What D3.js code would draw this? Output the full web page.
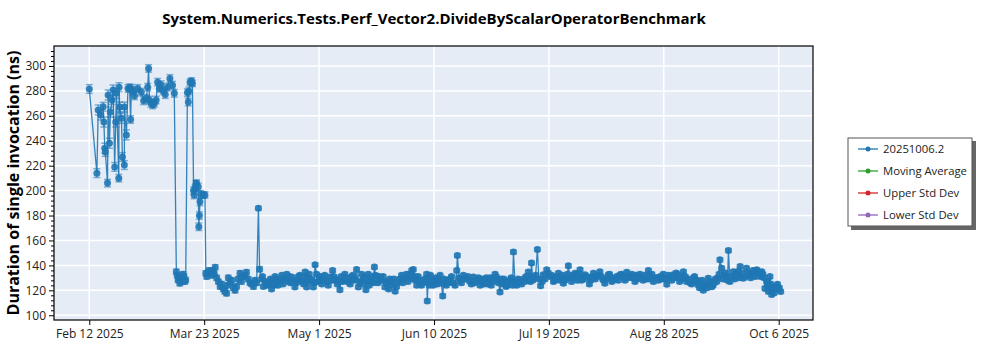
<!DOCTYPE html>
<html><head><meta charset="utf-8">
<script src="https://cdn.jsdelivr.net/npm/d3@7"></script>
<style>
body{margin:0;background:#fff;}
svg{display:block;font-family:"Open Sans","Noto Sans",sans-serif;}
</style>
</head><body>
<svg id="chart" width="1000" height="350"></svg>
<script>
const chartTitle = "System.Numerics.Tests.Perf_Vector2.DivideByScalarOperatorBenchmark";
const yAxisLabel = "Duration of single invocation (ns)";
const seriesName = "20251006.2";
// x ticks: day offsets from Feb 12 2025 and their labels
const xTickDays = [0, 39.33, 78.67, 118, 157.33, 196.67, 236];
const xTickLabels = ["Feb 12 2025","Mar 23 2025","May 1 2025","Jun 10 2025","Jul 19 2025","Aug 28 2025","Oct 6 2025"];
const yTickValues = [100,120,140,160,180,200,220,240,260,280,300];
const legendLabels = ["20251006.2","Moving Average","Upper Std Dev","Lower Std Dev"];
const legendColors = ["#1f77b4","#2ca02c","#d62728","#9467bd"];
// [day offset from Feb 12 2025, duration ns, error ns]
const runsA = [
[0,281.5,3.5],[2.6,214,3.5],[3.05,264.7,4],[3.9,260.6,4],[4.75,267.3,3.5],[5.0,255,4],[5.3,234,4],[5.5,231,3.5],
[6.25,206,3],[6.45,276.7,4],[6.9,238,4],[7.25,263,4],[7.8,272.7,3.5],[8.15,280.7,4],[8.7,219,3.5],[9.05,255,4],
[9.3,278,4],[10.1,210,3],[10.2,283,3.5],[10.4,267,4],[11.0,258,4],[11.35,227,3.5],[12.0,220.5,3.5],[12.05,267,4],
[12.7,244.6,4],[13.25,282,3],[13.8,282.6,3],[14.15,257,3],[14.4,282,3],[14.85,280,3],[15.5,276,3],[16.6,282,3],
[17.8,279,3],[18.6,272,3],[19.5,274,3],[20.0,283,3],[20.3,298,3],[20.6,272.7,3],[21.1,270,3],[21.7,268.7,3],
[22.3,270,3],[22.9,272.7,3],[23.4,287,3],[24.0,282,3],[24.6,285,3],[25.3,280,3],[26.0,277,3],[26.8,283,3],
[27.6,290,3],[28.5,284.6,3],[29.1,278,3],
[29.8,135,2],[30.4,128.3,2],[31.0,125.7,2],[31.5,130,2],[32.1,133,2],[32.7,127,2],[33.0,128.3,2],
[33.6,278.6,3],[33.9,271,3],[34.1,280,3],[34.5,287,2.5],[35.0,288,2.5],[35.3,286,2.5],
[35.7,200,3],[35.9,196.5,3],[36.2,202,3],[36.5,205,3],[36.7,206,2.5],[37.3,203,3],[37.5,171,3],[37.7,180,3],
[37.9,191,3],[38.2,197,3],[39.0,196.5,2.5],[39.6,196.5,2.5],
[39.9,133.7,2],[40.6,134,2],[41.3,134.5,2],[42.4,136,2],[43.1,138.5,2],[43.6,130,2],[44.8,123,2],[45.9,121,2],
[47.0,117.6,2],[47.6,130,2],[48.2,126,2],[49.3,122,2],[50.4,123,2],[51.6,133.7,2],[52.7,131,2],[53.8,134.5,2],
[55.0,126,2],[56.2,123,2],[57.3,126,2],[57.9,185.8,1.5],[58.3,137,2],
[59.0,129,1.5],[59.6,123,1.5],[60.7,125,1.5],[61.6,127,1.5],[62.4,121,1.5],[63.2,124,1.5],[64.1,129,1.5],[65.1,127,1.5],
[65.9,132,1.5],[66.7,128,1.5],[67.6,133,1.5],[68.5,131,1.5],[69.3,130.7,1.5],[70.4,122.7,1.5],[71.2,128,1.5],[72.1,132,1.5],
[73.0,130,1.5],[73.9,134.7,1.5],[74.4,122.7,1.5],[75.0,127,1.5],[75.6,129,1.5],[76.7,122.7,1.5],[77.3,140.5,1.5],[77.8,133,1.5],
[78.8,130,1.5],[79.6,125,1.5],[80.1,129,1.5],[81.3,127,1.5],[82.4,130.7,1.5],[83.3,136,1.5],[84.1,128,1.5],[84.9,125,1.5],
[85.8,120.5,1.5],[86.7,127,1.5],[87.5,133,1.5],[88.7,126.7,1.5],[89.8,130.7,1.5],[90.7,128,1.5],[91.5,136.8,1.5],[92.1,122.7,1.5],
[93.2,133,1.5],[94.0,129,1.5],[94.7,120.5,1.5],[95.5,133,1.5],[96.1,126.7,1.5],[96.9,131,1.5],[97.6,138.7,1.5],[98.4,129,1.5],
[99.3,131,1.5],[100.1,128,1.5],[101.2,122.7,1.5],[102.0,125,1.5],[102.9,129,1.5],[103.9,124,1.5],[104.7,119.2,1.5],[105.8,126.7,1.5],
[106.9,132,1.5],[107.7,129,1.5],[108.6,133,1.5],[109.6,131,1.5],[110.4,136,1.5],[110.9,136.8,1.5],[111.5,131,1.5],[112.1,124,1.5],
[113.2,128,1.5],[114.4,126,1.5],[115.5,133,1.5],[115.7,111.5,1.5],[116.4,124,1.5],[117.2,129,1.5],[118.3,127,1.5],[119.2,125,1.5],
[120.1,132,1.5],[121.0,115.5,1.5],[121.8,125,1.5],[122.6,128,1.5],[123.5,129,1.5],[124.6,126,1.5],[125.8,136,1.5],[126.0,148,1.5],
[126.6,130,1.5],[126.9,128,1.5],[128.1,132,1.5],[129.2,129,1.5],[130.3,127,1.5],[131.5,130.7,1.5],[132.6,128,1.5],[133.8,124,1.5],
[134.7,127,1.5],[135.5,128,1.5],[136.3,125,1.5],[137.2,130,1.5],[138.1,127,1.5],[138.9,133,1.5],[139.7,128,1.5],[140.6,118.7,1.5],
[141.5,125,1.5],[142.3,126.7,1.5],[143.1,124,1.5],[144.0,128,1.5],[144.9,124,1.5],[145.2,150.8,1.5],[145.7,127,1.5],[146.3,124,1.5],
[147.4,127,1.5],[148.6,129,1.5],[149.5,131,1.5],[150.3,134.7,1.5],[150.6,131,1.5],[151.4,142,1.5],[152.2,130,1.5],[153.4,152.8,1.5],
[154.5,123.7,1.5],[155.4,132.4,1.5],[156.6,136.5,1.5],[157.7,131,1.5],[158.9,127,1.5],[159.8,130,1.5],[160.6,133.7,1.5],[161.4,130,1.5],
[162.3,125.6,1.5],[163.4,130,1.5],[164.0,139.7,1.5],[164.6,129.7,1.5],[165.5,132,1.5],[166.3,133.7,1.5],[167.1,128,1.5],[168.0,136.5,1.5],
[168.9,131,1.5],[169.7,132.4,1.5],[171.2,125,1.5],[172.0,130,1.5],[172.6,133.7,1.5],[173.7,131,1.5],[174.8,135,1.5],[175.8,129,1.5],
[176.5,125.6,1.5],[177.7,132.4,1.5],[178.5,130,1.5],[179.4,128.3,1.5],[180.5,131,1.5],[181.7,132.4,1.5],[182.8,130,1.5],[184.0,134.6,1.5],
[185.1,131,1.5],[186.3,129.7,1.5],[187.2,132,1.5],[188.0,131,1.5],[189.1,130,1.5],[190.2,132,1.5],[191.4,136,1.5],[192.2,131,1.5],
[193.1,127,1.5],[194.2,130,1.5],[195.4,131,1.5],[196.5,133,1.5],[197.7,124.8,1.5],[198.8,130,1.5],[199.9,132.4,1.5],[200.9,134,1.5],
[201.7,129.7,1.5],[202.6,131,1.5],[203.4,135,1.5],[204.5,127,1.5],[205.7,126,1.5],[206.8,129.7,1.5],[207.7,127,1.5],[208.5,124.2,1.5],
[209.3,126,1.5],[210.2,120.1,1.5],[211.1,125,1.5],[211.9,129.7,1.5],[213.1,122.9,1.5],[213.9,126,1.5],[214.8,127,1.5],[215.6,133,1.5],
[215.9,144.6,1.5],[216.5,137.8,1.5],[217.3,132,1.5],[218.2,130,1.5],[218.8,152,1.5],[219.3,127,1.5],[220.5,135,1.5],[221.4,131,1.5],
[222.2,133,1.5],[222.8,139.2,1.5],[223.9,129.7,1.5],[225.0,137.8,1.5],[226.0,132,1.5],[226.8,132.4,1.5],[227.6,134,1.5],[228.5,136.5,1.5],
[229.4,133,1.5],[230.2,135,1.5],[231.0,130,1.5],[231.3,121.5,1.5],[231.9,127,1.5],[232.5,119,1.5],[233.0,131,1.5],[233.6,116.6,1.5],
[234.2,121,1.5],[234.8,121.5,1.5],[235.6,124.8,1.5],[236.2,122,1.5],[236.7,119,1.5]
];
// additional runs
const runsB = [
[30.1,132,2],[30.7,130,2],[31.8,127,2],[32.4,131,2],
[40.2,131,2],[41.0,136,2],[41.8,132,2],[42.8,133,2],[44.2,127,2],[45.3,125,2],[46.4,119,2],[47.3,124,2],
[48.8,128,2],[49.9,120,2],[51.0,129,2],[52.1,127,2],[53.2,132,2],[54.4,129,2],[55.6,125,2],[56.7,128,2],
[59.3,131,1.5],[60.2,127,1.5],[61.1,124,1.5],[62.0,129,1.5],[62.8,126,1.5],[63.6,131,1.5],[64.6,124,1.5],[65.5,129,1.5],
[66.3,125,1.5],[67.2,130,1.5],[68.0,127,1.5],[68.9,126,1.5],[69.8,128,1.5],[70.8,126,1.5],[71.6,131,1.5],[72.5,127,1.5],
[73.4,125,1.5],[74.7,130,1.5],[75.3,133,1.5],[76.2,128,1.5],[77.0,126,1.5],[78.3,127,1.5],[79.2,131,1.5],[80.6,132,1.5],
[81.8,124,1.5],[82.9,128,1.5],[83.7,131,1.5],[84.5,129,1.5],[85.3,127,1.5],[86.2,131,1.5],[87.1,128,1.5],[88.1,130,1.5],
[89.3,125,1.5],[90.2,132,1.5],[91.1,129,1.5],[92.6,127,1.5],[93.6,125,1.5],[94.3,131,1.5],[95.1,128,1.5],[95.8,124,1.5],
[96.5,128,1.5],[97.2,126,1.5],[98.0,132,1.5],[98.8,126,1.5],[99.7,128,1.5],
[100.6,131,1.5],[101.6,127,1.5],[102.5,121,1.5],[103.4,127,1.5],[104.3,129,1.5],[105.2,123,1.5],[106.3,129,1.5],[107.3,126,1.5],
[108.2,130,1.5],[109.1,127,1.5],[110.0,133,1.5],[110.7,129,1.5],[111.8,128,1.5],[112.6,131,1.5],[113.7,124,1.5],[114.9,129,1.5],
[116.0,127,1.5],[116.8,132,1.5],[117.7,124,1.5],[118.7,130,1.5],[119.6,128,1.5],[120.5,126,1.5],[121.4,129,1.5],[122.2,124,1.5],
[123.0,126,1.5],[124.0,131,1.5],[125.2,124,1.5],[127.4,126,1.5],[128.6,129,1.5],[129.7,131,1.5],[130.8,125,1.5],[132.0,126,1.5],
[133.2,130,1.5],[134.2,129,1.5],[135.1,125,1.5],[135.9,130,1.5],[136.7,127,1.5],[137.6,124,1.5],[138.5,130,1.5],[139.3,131,1.5],
[140.1,126,1.5],[141.0,129,1.5],[141.9,129,1.5],[142.7,123,1.5],[143.5,127,1.5],[144.4,130,1.5],[146.0,126,1.5],[146.8,129,1.5],
[148.0,125,1.5],[149.0,127,1.5],[149.9,128,1.5],
[151.0,127,1.5],[151.8,128,1.5],[152.8,132,1.5],[153.9,129,1.5],[155.0,127,1.5],[156.0,129,1.5],[157.1,134,1.5],[158.3,132,1.5],
[159.3,128,1.5],[160.2,131,1.5],[161.0,128,1.5],[161.9,132,1.5],[162.8,128,1.5],[163.7,133,1.5],[165.1,127,1.5],[165.9,130,1.5],
[166.7,131,1.5],[167.5,133,1.5],[168.5,128,1.5],[169.3,129,1.5],[170.4,131,1.5],[171.6,128,1.5],[172.3,131,1.5],[173.2,129,1.5],
[174.2,132,1.5],[175.3,131,1.5],[176.1,128,1.5],[177.1,129,1.5],[178.1,133,1.5],[178.9,127,1.5],[180.0,129,1.5],[181.1,128,1.5],
[182.2,133,1.5],[183.4,128,1.5],[184.6,130,1.5],[185.7,133,1.5],[186.8,127,1.5],[187.6,129,1.5],[188.5,133,1.5],[189.6,128,1.5],
[190.7,129,1.5],[191.8,129,1.5],[192.6,133,1.5],[193.6,130,1.5],[194.8,128,1.5],[195.9,129,1.5],[197.1,129,1.5],[198.3,132,1.5],
[199.4,128,1.5],[200.4,130,1.5],[201.3,133,1.5],[202.1,127,1.5],[203.0,129,1.5],[204.0,131,1.5],[205.1,129,1.5],
[206.2,125,1.5],[207.2,131,1.5],[208.1,128,1.5],[208.9,122,1.5],[209.8,128,1.5],[210.7,124,1.5],[211.5,122,1.5],[212.5,127,1.5],
[213.5,124,1.5],[214.3,129,1.5],[215.2,130,1.5],[216.9,129,1.5],[217.8,134,1.5],[218.5,128,1.5],[219.9,131,1.5],[220.9,129,1.5],
[221.8,135,1.5],[222.5,130,1.5],[223.4,134,1.5],[224.5,131,1.5],[225.5,134,1.5],[226.4,130,1.5],[227.2,136,1.5],[228.0,131,1.5],
[229.0,135,1.5],[229.8,131,1.5],[230.6,133,1.5],[232.2,125,1.5],[232.8,123,1.5],[233.3,125,1.5],[233.9,120,1.5],[234.5,118,1.5],
[235.2,123,1.5],[235.9,121,1.5]
];
const points = d3.sort(runsA.concat(runsB), d => d[0]);

const svg = d3.select("#chart");
const plot = {left: 54, right: 813, top: 46, bottom: 320};
const x = d3.scaleLinear().domain([-12.08, 247.75]).range([plot.left, plot.right]);
const y = d3.scaleLinear().domain([96.2, 316]).range([plot.bottom, plot.top]);
const blue = legendColors[0];

svg.append("defs").append("clipPath").attr("id","clip")
  .append("rect").attr("x",plot.left).attr("y",plot.top)
  .attr("width",plot.right-plot.left).attr("height",plot.bottom-plot.top);

svg.append("rect").attr("x",plot.left).attr("y",plot.top)
  .attr("width",plot.right-plot.left).attr("height",plot.bottom-plot.top)
  .attr("fill","#e5ecf6");

// grid
const grid = svg.append("g").attr("clip-path","url(#clip)");
grid.selectAll("line.gy").data(yTickValues).join("line")
  .attr("x1",plot.left).attr("x2",plot.right)
  .attr("y1",d=>y(d)).attr("y2",d=>y(d))
  .attr("stroke","#fff").attr("stroke-width",1.5);
grid.selectAll("line.gx").data(xTickDays).join("line")
  .attr("y1",plot.top).attr("y2",plot.bottom)
  .attr("x1",d=>x(d)).attr("x2",d=>x(d))
  .attr("stroke","#fff").attr("stroke-width",1.5);

// data
const g = svg.append("g").attr("clip-path","url(#clip)");
g.append("path").datum(points)
  .attr("d", d3.line().x(d=>x(d[0])).y(d=>y(d[1])))
  .attr("fill","none").attr("stroke",blue).attr("stroke-width",1.3).attr("stroke-opacity",0.9);
const eb = g.append("g").attr("stroke",blue).attr("stroke-opacity",0.55).attr("stroke-width",1.5);
eb.selectAll("line.v").data(points).join("line")
  .attr("x1",d=>x(d[0])).attr("x2",d=>x(d[0]))
  .attr("y1",d=>y(d[1]-d[2])).attr("y2",d=>y(d[1]+d[2]));
eb.selectAll("line.t").data(points).join("line")
  .attr("x1",d=>x(d[0])-3.5).attr("x2",d=>x(d[0])+3.5)
  .attr("y1",d=>y(d[1]+d[2])).attr("y2",d=>y(d[1]+d[2]));
eb.selectAll("line.b").data(points).join("line")
  .attr("x1",d=>x(d[0])-3.5).attr("x2",d=>x(d[0])+3.5)
  .attr("y1",d=>y(d[1]-d[2])).attr("y2",d=>y(d[1]-d[2]));
g.selectAll("circle").data(points).join("circle")
  .attr("cx",d=>x(d[0])).attr("cy",d=>y(d[1])).attr("r",3.5)
  .attr("fill",blue).attr("fill-opacity",0.9);

// frame
svg.append("rect").attr("x",plot.left).attr("y",plot.top)
  .attr("width",plot.right-plot.left).attr("height",plot.bottom-plot.top)
  .attr("fill","none").attr("stroke","#000").attr("stroke-width",1.2);

// axes
const yAxis = svg.append("g").attr("transform",`translate(${plot.left},0)`)
  .call(d3.axisLeft(y).tickValues(yTickValues).tickSize(5).tickPadding(3));
const minor = d3.range(100, 316, 4).filter(v => v % 20 !== 0);
svg.append("g").attr("transform",`translate(${plot.left},0)`)
  .call(d3.axisLeft(y).tickValues(minor).tickSize(3).tickFormat(""))
  .call(s=>s.select(".domain").remove());
const xAxis = svg.append("g").attr("transform",`translate(0,${plot.bottom})`)
  .call(d3.axisBottom(x).tickValues(xTickDays).tickSize(5).tickPadding(4)
    .tickFormat((d,i)=>xTickLabels[i]));
[yAxis, xAxis].forEach(a=>{
  a.select(".domain").remove();
  a.selectAll("text").attr("font-size",12).attr("fill","#222")
    .attr("font-family","'Open Sans','Noto Sans',sans-serif");
});
svg.selectAll(".tick line").attr("stroke","#000");

// title & labels
svg.append("text").attr("x",434).attr("y",24).attr("text-anchor","middle")
  .attr("font-size",15).attr("font-weight","bold").attr("fill","#000").text(chartTitle);
svg.append("text").attr("transform","translate(19,183) rotate(-90)").attr("text-anchor","middle")
  .attr("font-size",16).attr("font-weight","bold").attr("fill","#000").text(yAxisLabel);

// legend
const lg = svg.append("g");
lg.append("rect").attr("x",851).attr("y",141).attr("width",125).attr("height",89).attr("fill","#666");
lg.append("rect").attr("x",848).attr("y",138).attr("width",124).attr("height",88)
  .attr("fill","#fff").attr("stroke","#555").attr("stroke-width",1);
legendLabels.forEach((lab,i)=>{
  const yy = 149 + i*22;
  lg.append("line").attr("x1",858).attr("x2",878).attr("y1",yy).attr("y2",yy)
    .attr("stroke",legendColors[i]).attr("stroke-width",1.3);
  lg.append("circle").attr("cx",868).attr("cy",yy).attr("r",2.5).attr("fill",legendColors[i]);
  lg.append("text").attr("x",883).attr("y",yy+4).attr("font-size",11.3).attr("fill","#222").text(lab);
});
</script>
</body></html>
